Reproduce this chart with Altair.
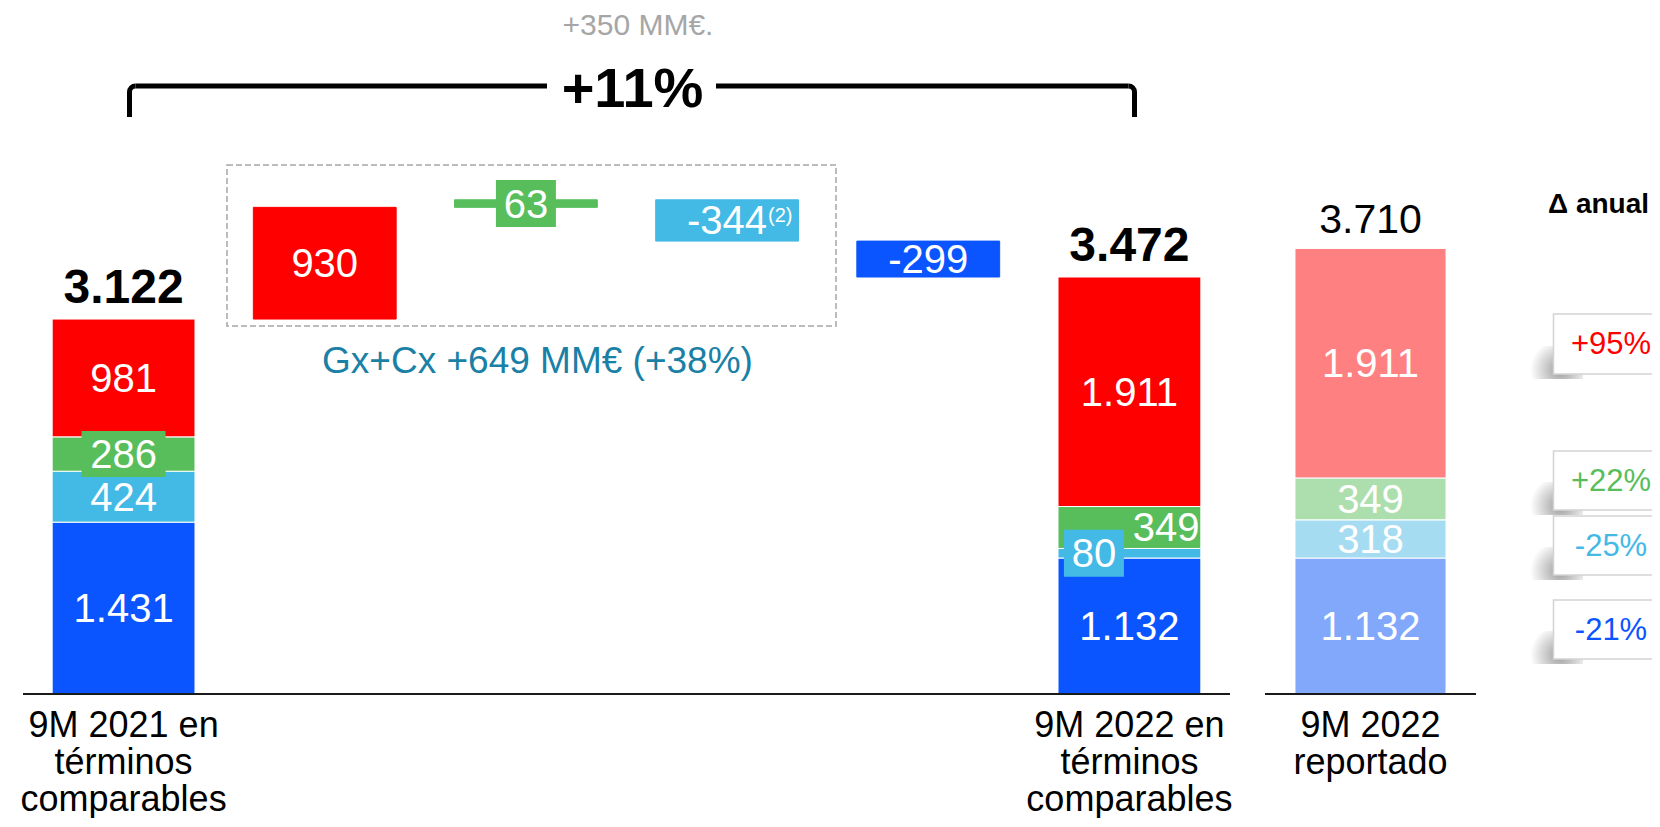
import math
import altair as alt
import pandas as pd

# ---------------- chart data ----------------
SEGMENTS = ["blue", "lightblue", "green", "red"]          # stacking order, bottom -> top
BASE_2021 = [1431, 424, 286, 981]                         # 9M 2021 en términos comparables
COMP_2022 = [1132, 80, 349, 1911]                         # 9M 2022 en términos comparables
REP_2022 = [1132, 318, 349, 1911]                         # 9M 2022 reportado
STEP_SEGMENTS = ["red", "green", "lightblue", "blue"]     # bridge steps, left -> right
STEP_VALUES = [930, 63, -344, -299]
DELTA_SEGMENTS = ["red", "green", "lightblue", "blue"]
DELTA_LABELS = ["+95%", "+22%", "-25%", "-21%"]
CATEGORY_LABELS = ["9M 2021 en\ntérminos\ncomparables",
                   "9M 2022 en\ntérminos\ncomparables",
                   "9M 2022\nreportado"]
NOTE_TOP = "+350 MM€."
NOTE_GROWTH = "+11%"
NOTE_GXCX = "Gx+Cx +649 MM€ (+38%)"
NOTE_DELTA = "Δ anual"
FOOTNOTE_MARK = "(2)"

# ---------------- styles / layout ----------------
FONT = "Liberation Sans"
STRONG = {"blue": "#0A55FF", "lightblue": "#43B9E6", "green": "#57BE5B", "red": "#FF0000"}
LIGHT = {"blue": "#82A8FC", "lightblue": "#A5DCF2", "green": "#ADDEAD", "red": "#FF8080"}
GREY = "#A6A6A6"
TEAL = "#1A80A6"

PX = 0.1201            # pixels per MM€
BASE_Y = 686           # pixel row of the zero line inside the panels
H = 806
W_LEFT, W_MID, W_RIGHT = 1207, 211, 141
GAP = 35
Y_DOMAIN = [-(H - BASE_Y) / PX, BASE_Y / PX]

LEFT_CATS = ["c2021", "step_red", "step_green", "step_lightblue", "step_blue", "c2022"]
MID_CATS = ["r2022"]


def fmt(v):
    s = f"{abs(v):,}".replace(",", ".")
    return "-" + s if v < 0 else s


# ---------------- build tables ----------------
rows = []


def stack(cat, values, palette):
    base = 0
    for seg, v in zip(SEGMENTS, values):
        rows.append(dict(cat=cat, seg=seg, y0=base, y1=base + v, mid=base + v / 2,
                         label=fmt(v), fill=palette[seg], stroke="white"))
        base += v
    return base


total_2021 = stack("c2021", BASE_2021, STRONG)
level = total_2021
for cat, seg, v in zip(LEFT_CATS[1:5], STEP_SEGMENTS, STEP_VALUES):
    rows.append(dict(cat=cat, seg=seg, y0=level, y1=level + v, mid=level + v / 2,
                     label=fmt(v), fill=STRONG[seg], stroke=STRONG[seg]))
    level += v
total_2022 = stack("c2022", COMP_2022, STRONG)
left_df = pd.DataFrame(rows)

rows = []
total_rep = stack("r2022", REP_2022, LIGHT)
mid_df = pd.DataFrame(rows)


def kind(r):
    key = (r["cat"], r["seg"])
    if key == ("c2021", "green"):
        return "box_wide"
    if r["cat"] == "step_green":
        return "box_narrow"
    if key == ("c2022", "lightblue"):
        return "box_left"
    if key == ("c2022", "green"):
        return "right"
    return "plain"


left_df["kind"] = left_df.apply(kind, axis=1)

totals_left = pd.DataFrame({"cat": ["c2021", "c2022"], "total": [total_2021, total_2022],
                            "label": [fmt(total_2021), fmt(total_2022)]})
totals_mid = pd.DataFrame({"cat": ["r2022"], "total": [total_rep], "label": [fmt(total_rep)]})
cats_left = pd.DataFrame({"cat": ["c2021", "c2022"], "label": CATEGORY_LABELS[:2]})
cats_mid = pd.DataFrame({"cat": ["r2022"], "label": CATEGORY_LABELS[2:]})

ys = alt.Scale(domain=Y_DOMAIN, zero=False, nice=False)
xs_left = alt.Scale(domain=LEFT_CATS, paddingInner=0.29, paddingOuter=0.145)
xs_mid = alt.Scale(domain=MID_CATS, paddingInner=0.284, paddingOuter=0.142)
ONE = pd.DataFrame({"a": [1]})


def X(scale):
    return alt.X("cat:N", scale=scale, axis=None)


def Y(field):
    return alt.Y(field, scale=ys, axis=None)


def bars(df, scale):
    return alt.Chart(df).mark_bar(strokeWidth=1).encode(
        x=X(scale), y=Y("y0:Q"), y2="y1:Q",
        fill=alt.Fill("fill:N", scale=None), stroke=alt.Stroke("stroke:N", scale=None))


def labels(df, scale, **kw):
    opts = dict(font=FONT, fontSize=40, color="white", baseline="alphabetic", dy=14)
    opts.update(kw)
    return alt.Chart(df).mark_text(**opts).encode(x=X(scale), y=Y("mid:Q"), text="label:N")


def boxes(df, scale, **kw):
    return alt.Chart(df).mark_rect(**kw).encode(
        x=X(scale), y=Y("mid:Q"), fill=alt.Fill("fill:N", scale=None))


def totals(df, scale, bold):
    return alt.Chart(df).mark_text(
        font=FONT, fontSize=48 if bold else 41, fontWeight="bold" if bold else "normal",
        baseline="alphabetic", dy=-16 if bold else -15, color="black"
    ).encode(x=X(scale), y=Y("total:Q"), text="label:N")


def cat_labels(df, scale):
    return alt.Chart(df).mark_text(
        font=FONT, fontSize=36, color="black", baseline="alphabetic", lineBreak="\n",
        lineHeight=37).encode(x=X(scale), y=alt.value(729), text="label:N")


def zero_line(width):
    return alt.Chart(ONE).mark_rule(color="#1a1a1a", strokeWidth=2).encode(
        y=alt.datum(0, scale=ys), x=alt.value(0), x2=alt.value(width))


def note(text, x, y, **kw):
    opts = dict(font=FONT, baseline="alphabetic", align="center")
    opts.update(kw)
    return alt.Chart(ONE).mark_text(**opts).encode(
        x=alt.value(x), y=alt.value(y), text=alt.value(text))


def seg(x1, y1, x2, y2):
    return alt.Chart(ONE).mark_rule(color="black", strokeWidth=5, strokeCap="butt").encode(
        x=alt.value(x1), y=alt.value(y1), x2=alt.value(x2), y2=alt.value(y2))


def corner(cx, cy, a0, a1, r=6):
    return alt.Chart(ONE).mark_arc(color="black", innerRadius=r - 2.5, outerRadius=r + 2.5,
                                   theta=a0, theta2=a1).encode(
        x=alt.value(cx), y=alt.value(cy))


# bracket geometry (pixels inside the left panel)
BR_L, BR_R, BR_Y, BR_BOTTOM, BR_R0 = 106.5, 1111.5, 78, 109, 6
BR_GAP_L, BR_GAP_R = 524, 693

k = left_df["kind"]
left = alt.layer(
    alt.Chart(ONE).mark_rect(filled=False, stroke=GREY, strokeWidth=1.5, strokeDash=[6, 3]).encode(
        x=alt.value(204), x2=alt.value(813), y=alt.value(157), y2=alt.value(318)),
    bars(left_df, xs_left),
    boxes(left_df[k == "box_wide"], xs_left, width=84, height=46),
    boxes(left_df[k == "box_narrow"], xs_left, width=60, height=47),
    boxes(left_df[k == "box_left"], xs_left, width=60, height=47, xOffset=-35.5),
    labels(left_df[k.isin(["plain", "box_wide", "box_narrow"])], xs_left),
    labels(left_df[k == "box_left"], xs_left, dx=-35.5),
    labels(left_df[k == "right"], xs_left, align="right", dx=70),
    alt.Chart(left_df[left_df["cat"] == "step_lightblue"]).mark_text(
        font=FONT, fontSize=20, color="white", baseline="alphabetic", align="left", dx=41, dy=2
    ).encode(x=X(xs_left), y=Y("mid:Q"), text=alt.value(FOOTNOTE_MARK)),
    totals(totals_left, xs_left, True),
    cat_labels(cats_left, xs_left),
    zero_line(W_LEFT),
    seg(BR_L, BR_Y + BR_R0, BR_L, BR_BOTTOM),
    seg(BR_L + BR_R0, BR_Y, BR_GAP_L, BR_Y),
    seg(BR_GAP_R, BR_Y, BR_R - BR_R0, BR_Y),
    seg(BR_R, BR_Y + BR_R0, BR_R, BR_BOTTOM),
    corner(BR_L + BR_R0, BR_Y + BR_R0, 1.5 * math.pi, 2 * math.pi, BR_R0),
    corner(BR_R - BR_R0, BR_Y + BR_R0, 0, 0.5 * math.pi, BR_R0),
    note(NOTE_GROWTH, 609.5, 99, fontSize=56, fontWeight="bold", color="black"),
    note(NOTE_TOP, 615, 27, fontSize=30, color=GREY),
    note(NOTE_GXCX, 514.5, 365, fontSize=37, color=TEAL),
).properties(width=W_LEFT, height=H)

mid = alt.layer(
    bars(mid_df, xs_mid),
    labels(mid_df, xs_mid),
    totals(totals_mid, xs_mid, False),
    cat_labels(cats_mid, xs_mid),
    zero_line(W_MID),
).properties(width=W_MID, height=H)

BOX_TOP = [306, 443, 508, 592]
BOX_BOTTOM = [366, 502, 567, 651]
box_df = pd.DataFrame({"label": DELTA_LABELS, "color": [STRONG[s] for s in DELTA_SEGMENTS],
                       "top": BOX_TOP, "bottom": BOX_BOTTOM})
box_df["ty"] = (box_df["top"] + box_df["bottom"]) / 2 + 10
box_df["s0"] = box_df["bottom"] - 28
box_df["s1"] = box_df["bottom"] + 5

shadow_fill = alt.Gradient(gradient="radial", x1=0.62, y1=0.62, r1=0, x2=0.62, y2=0.62, r2=0.5,
                           stops=[alt.GradientStop(color="#9c9c9c", offset=0),
                                  alt.GradientStop(color="#c8c8c8", offset=0.45),
                                  alt.GradientStop(color="#ffffff", offset=1)])
right = alt.layer(
    alt.Chart(box_df).mark_rect(fill=shadow_fill, clip=True).encode(
        x=alt.value(12), x2=alt.value(72),
        y=alt.Y("s0:Q", scale=None), y2="s1:Q"),
    alt.Chart(box_df).mark_rect(fill="white", stroke="#d3d3d3", strokeWidth=1.5, clip=True).encode(
        x=alt.value(42.5), x2=alt.value(230),
        y=alt.Y("top:Q", scale=None), y2="bottom:Q"),
    alt.Chart(box_df).mark_text(font=FONT, fontSize=31, baseline="alphabetic", align="center",
                                clip=True).encode(
        x=alt.value(100), y=alt.Y("ty:Q", scale=None), text="label:N",
        color=alt.Color("color:N", scale=None)),
    note(NOTE_DELTA, 37, 205, fontSize=28, fontWeight="bold", color="black", align="left"),
).properties(width=W_RIGHT, height=H)

chart = alt.hconcat(left, mid, right, spacing=GAP, bounds="flush").properties(
    padding={"left": 12, "top": 0, "right": 0, "bottom": 0}
).configure_view(stroke=None)

chart.save("out.html", embed_options={"renderer": "svg", "actions": False})
